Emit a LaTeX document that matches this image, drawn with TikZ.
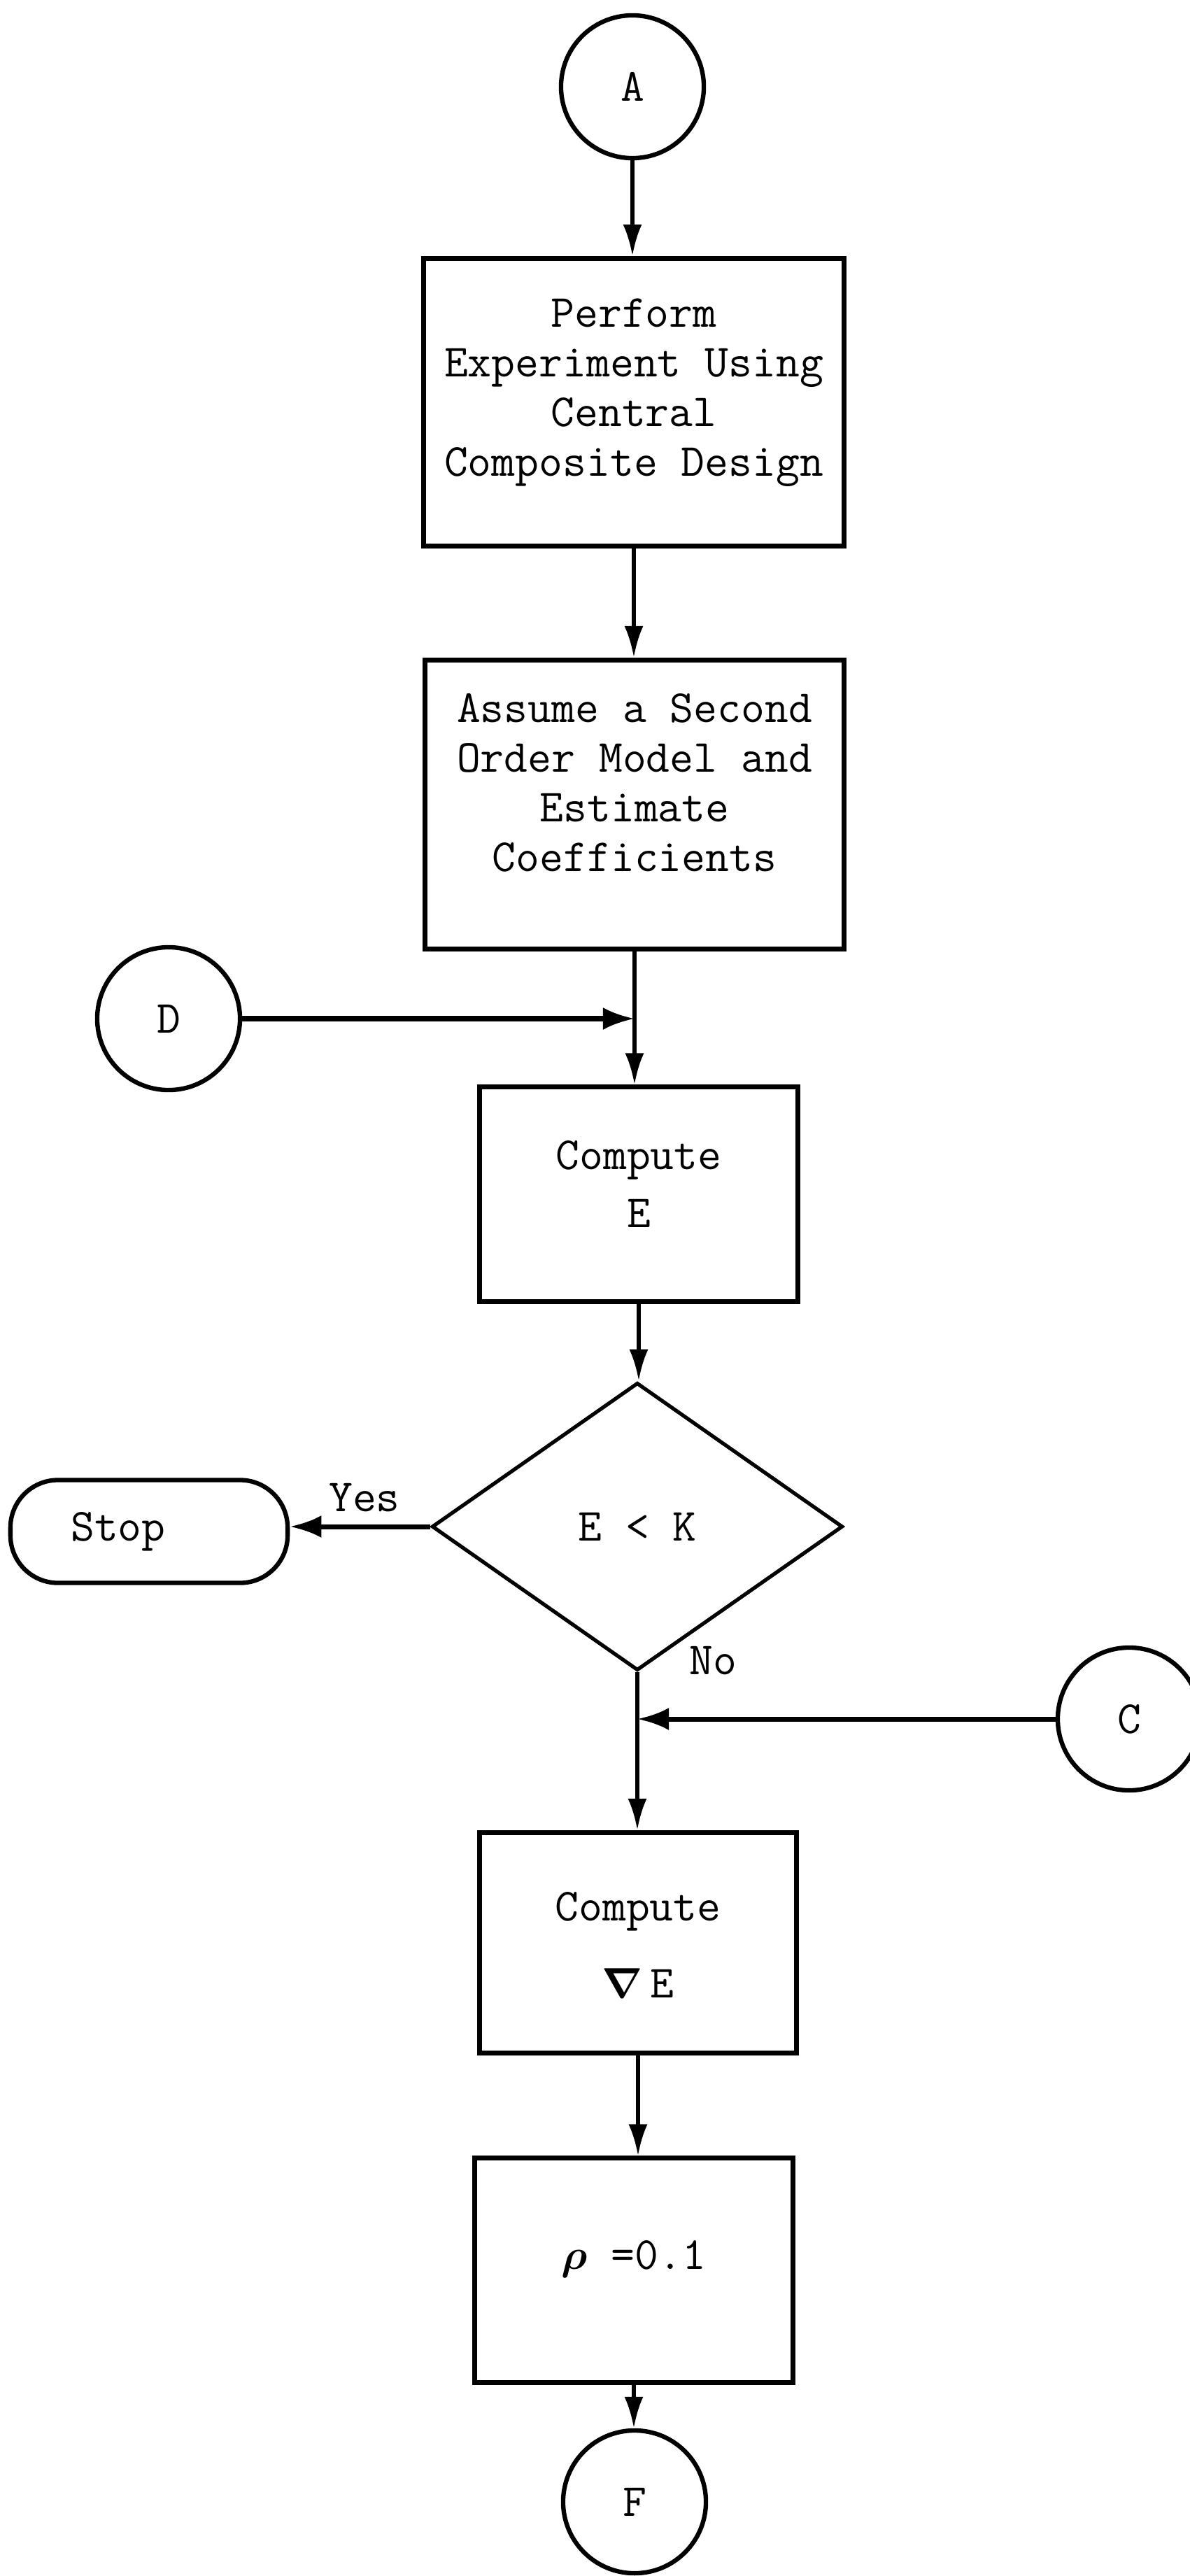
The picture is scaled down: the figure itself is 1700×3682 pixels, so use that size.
\documentclass[tikz,border=0pt]{standalone}
\usepackage{fontspec}
\usepackage{bm}
\usetikzlibrary{shapes.geometric,arrows.meta}

% typewriter face used for every label
\newcommand\tw{\ttfamily\fontsize{18.7pt}{20.2pt}\selectfont}
% centred block of lines, shifted up by #1 without changing its box
\newcommand\liftblock[2]{\raisebox{#1}[\height][\depth]{\begin{tabular}{@{}c@{}}#2\end{tabular}}}

\begin{document}
\begin{tikzpicture}[x=0.01cm,y=-0.01cm,
  txt/.style={font=\tw},
  proc/.style={draw, line width=2pt, inner sep=0pt, font=\tw},
  conn/.style={circle, draw, line width=1.8pt, minimum size=2.04cm, inner sep=0pt, font=\tw},
  test/.style={diamond, draw, line width=1.5pt, inner sep=0pt,
               minimum width=5.87cm, minimum height=4.11cm, font=\tw},
  term/.style={draw, line width=1.8pt, rounded corners=0.68cm,
               minimum width=3.96cm, minimum height=1.47cm, inner sep=0pt, font=\tw},
  flow/.style={line width=1.6pt, -{Latex[length=0.45cm,width=0.27cm]}},
  feed/.style={line width=2pt, -{Latex[length=0.45cm,width=0.32cm]}}
]
\useasboundingbox[fill=white] (0,0) rectangle (1700,3682);

% main column
\node[conn] (A) at (904,124) {A};
\node[proc, minimum width=6cm, minimum height=4.11cm] (b1) at (906,575)
  {\liftblock{0.15cm}{Perform\\Experiment Using\\Central\\Composite Design}};
\node[proc, minimum width=5.99cm, minimum height=4.13cm] (b2) at (907,1150)
  {\liftblock{0.25cm}{Assume a Second\\Order Model and\\Estimate\\Coefficients}};
\node[conn] (D) at (241,1456) {D};
\node[proc, minimum width=4.55cm, minimum height=3.06cm] (b3) at (913,1707)
  {\liftblock{0.08cm}{Compute\\[3.3pt]E}};
\node[test] (t) at (911,2182) {E < K};
\node[term] (stop) at (213,2189) {Stop\hspace*{0.88cm}};
\node[conn] (C) at (1614,2457) {C};
\node[proc, minimum width=4.53cm, minimum height=3.15cm] (b4) at (912,2777)
  {\liftblock{-0.09cm}{Compute\\[11pt]$\bm{\nabla}$\,E}};
\node[proc, minimum width=4.55cm, minimum height=3.2cm] (b5) at (906,3245)
  {\liftblock{0.16cm}{$\bm{\rho}$ =0.1}};
\node[conn] (F) at (907,3576) {F};

% branch labels
\node[txt] (yes) at (521,2141) {Yes};
\node[txt] (no) at (1019,2374) {No};

% connectors
\draw[flow] (A) -- (A |- b1.north);
\draw[flow] (b1.south) -- (b1.south |- b2.north);
\draw[flow] (b2.south) -- (b2.south |- b3.north);
\draw[feed] (D) -- (D -| b2.south);
\draw[flow] (b3.south) -- (b3.south |- t.north);
\draw[feed] (t.west) -- (stop.east |- t.west);
\draw[flow] (t.south) -- (t.south |- b4.north);
\draw[feed] (C) -- (C -| t.south);
\draw[flow] (b4.south) -- (b4.south |- b5.north);
\draw[flow] (b5.south) -- (b5.south |- F.north);
\end{tikzpicture}
\end{document}
